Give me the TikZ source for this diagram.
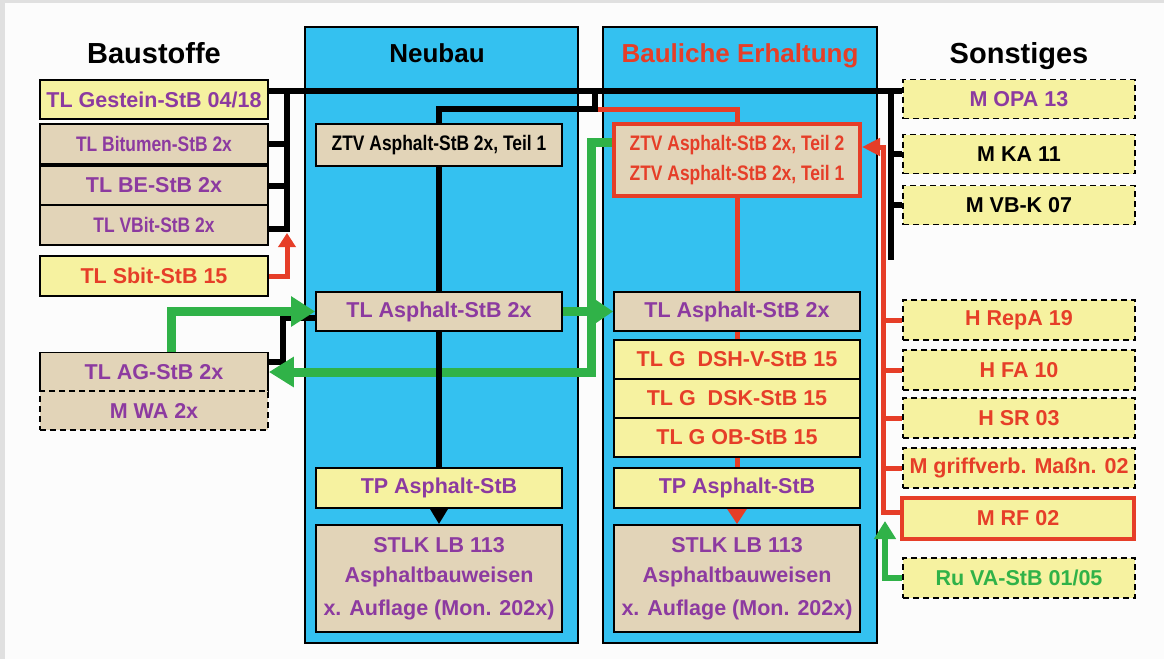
\documentclass[tikz,border=0pt]{standalone}
\usepackage{fontspec}
\setmainfont{Liberation Sans}
\newfontfamily\narrowfont{Liberation Sans}[FakeStretch=0.83]
\usepackage{tikz}
\usetikzlibrary{arrows.meta}
\usepackage{xcolor}
\definecolor{panelblue}{RGB}{52,193,240}
\definecolor{paleyellow}{RGB}{246,242,160}
\definecolor{beige}{RGB}{226,212,184}
\definecolor{lila}{RGB}{140,58,160}
\definecolor{signalred}{RGB}{230,62,40}
\definecolor{signalgreen}{RGB}{48,178,72}
\pgfdeclarelayer{back}
\pgfdeclarelayer{mid}
\pgfsetlayers{back,mid,main}
\newcommand{\boxfont}{\fontsize{21.5}{30}\selectfont\bfseries}
\newcommand{\narrowboxfont}{\fontsize{21}{30}\selectfont\narrowfont\bfseries}
\newcommand{\titlefont}{\fontsize{29}{32}\selectfont\bfseries}
\newcommand{\paneltitlefont}{\fontsize{26}{30}\selectfont\bfseries}

\begin{document}
\begin{tikzpicture}[x=1pt,y=-1pt,
	box/.style={draw=black, line width=1.8pt, inner sep=0pt, minimum height=39pt, font=\boxfont, text=lila, align=center},
	lbox/.style={box, minimum width=228pt},
	mbox/.style={box, minimum width=246pt},
	rbox/.style={box, minimum width=232pt, fill=paleyellow},
	dashbox/.style={dash pattern=on 6pt off 4pt},
	redbox/.style={draw=signalred, line width=4pt},
	panel/.style={draw=black, line width=1.8pt, fill=panelblue, minimum height=616pt, inner sep=0pt},
	bus/.style={line width=6pt, black},
	redline/.style={line width=5pt, signalred},
	greenline/.style={line width=9pt, signalgreen}]
	\useasboundingbox (0,0) rectangle (1164,659);
	\begin{pgfonlayer}{back}
		\fill[black!12] (0,0) rectangle (1164,659);
		\fill[white!99!black] (5,3) rectangle (1164,659);
		\node[panel, minimum width=273pt] (neubau) at (441.5,335) {};
		\node[panel, minimum width=274pt] (erhaltung) at (740,335) {};
	\end{pgfonlayer}
	% titles
	\node[font=\titlefont, anchor=base] (tbau) at (154,63) {Baustoffe};
	\node[font=\paneltitlefont, anchor=base] (tneu) at (437,62) {Neubau};
	\node[font=\paneltitlefont, anchor=base, text=signalred] (terh) at (740,62) {Bauliche Erhaltung};
	\node[font=\titlefont, anchor=base] (tson) at (1019,63) {Sonstiges};
	% Baustoffe
	\node[lbox, fill=paleyellow] (gestein) at (154,99.5) {TL Gestein-StB 04/18};
	\node[lbox, fill=beige, font=\narrowboxfont, minimum height=40pt] (bitumen) at (154,144) {TL Bitumen-StB 2x};
	\node[lbox, fill=beige] (be) at (154,185.5) {TL BE-StB 2x};
	\node[lbox, fill=beige, font=\narrowboxfont, minimum height=40pt] (vbit) at (154,225) {TL VBit-StB 2x};
	\node[lbox, fill=paleyellow, text=signalred, minimum height=40pt] (sbit) at (154,276) {TL Sbit-StB 15};
	\node[lbox, fill=beige] (ag) at (154,372) {TL AG-StB 2x};
	\node[lbox, fill=beige, dashbox] (wa) at (154,410.5) {M WA 2x};
	% Neubau
	\node[mbox, fill=beige, font=\narrowboxfont, text=black, minimum height=42pt] (ztvn) at (439,145) {ZTV Asphalt-StB 2x, Teil 1};
	\node[mbox, fill=beige] (tln) at (439,311.5) {TL Asphalt-StB 2x};
	\node[mbox, fill=paleyellow, minimum height=40pt] (tpn) at (439,488) {TP Asphalt-StB};
	\node[mbox, fill=beige, minimum height=107pt] (stlkn) at (439,578.5) {STLK LB 113\\Asphaltbauweisen\\[3pt]x. Auflage (Mon. 202x)};
	% Bauliche Erhaltung
	\node[mbox, fill=beige, font=\narrowboxfont, text=signalred, redbox, minimum height=72pt] (ztve) at (737,160) {ZTV Asphalt-StB 2x, Teil 2\\ZTV Asphalt-StB 2x, Teil 1};
	\node[mbox, fill=beige] (tle) at (737,311.5) {TL Asphalt-StB 2x};
	\foreach \name/\y/\txt in {dsh/359.5/{TL G\ \ DSH-V-StB 15}, dsk/398.5/{TL G\ \ DSK-StB 15}, ob/437.5/{TL G OB-StB 15}}
		\node[mbox, fill=paleyellow, text=signalred] (\name) at (737,\y) {\txt};
	\node[mbox, fill=paleyellow, minimum height=40pt] (tpe) at (737,488) {TP Asphalt-StB};
	\node[mbox, fill=beige, minimum height=107pt] (stlke) at (737,578.5) {STLK LB 113\\Asphaltbauweisen\\[3pt]x. Auflage (Mon. 202x)};
	% Sonstiges
	\node[rbox, dashbox] (opa) at (1019,99) {M OPA 13};
	\node[rbox, dashbox, text=black] (ka) at (1019,154) {M KA 11};
	\node[rbox, dashbox, text=black] (vbk) at (1019,205) {M VB-K 07};
	\foreach \name/\y/\txt in {repa/320/{H RepA 19}, fa/370/{H FA 10}, sr/418/{H SR 03}, griff/468/{M griffverb. Maßn. 02}}
		\node[rbox, dashbox, text=signalred, minimum height=40pt] (\name) at (1019,\y) {\txt};
	\node[rbox, redbox, text=signalred, minimum height=41pt] (rf) at (1018,518.5) {M RF 02};
	\node[rbox, dashbox, text=signalgreen, minimum height=40pt] (ru) at (1019,578) {Ru VA-StB 01/05};
	% connectors
	\begin{pgfonlayer}{mid}
		\coordinate (lb) at (287,90);
		\coordinate (sb) at (287,233);
		\coordinate (mtop) at (595,90);
		\coordinate (mj) at (595,109);
		\coordinate (gc) at (591,372);
		\coordinate (rb) at (891,90);
		\coordinate (rbend) at (891,260);
		\coordinate (rr) at (883,147);
		\coordinate (ga) at (885,521);
		\draw[bus] ([yshift=9pt]gestein.east) -- ([yshift=9pt]gestein.east -| opa.west);
		\draw[bus] (lb) |- ([yshift=-4pt]vbit.east);
		\foreach \name in {bitumen,be}
			\draw[bus] (\name.east) -- (\name.east -| lb);
		\draw[redline, -{Triangle[length=14pt,width=17pt]}] (sbit.east) -| (sb);
		\draw[redline] (mj) -| (ztve.north);
		\draw[bus] (mtop) -- (mj) -| (ztvn.north);
		\draw[bus] ([yshift=-6pt]tln.west) -- ++(-32,0) |- ([yshift=10pt]ag.east);
		\draw[greenline, -{Triangle[length=25pt,width=29pt]}] ([yshift=18pt]ztve.west) -| (gc) -- (ag.east);
		\draw[greenline, -{Triangle[length=24pt,width=29pt]}] ([xshift=17pt]ag.north) |- (tln.west);
		\draw[greenline, -{Triangle[length=18pt,width=23pt]}] (tln.east) -- (tle.west);
		\draw[bus] (ztvn.south) -- (tpn.north);
		\draw[bus, -{Triangle[length=17pt,width=19pt]}] (tpn.south) -- (stlkn.north);
		\draw[redline] (ztve.south) -- (tpe.north);
		\draw[redline, -{Triangle[length=17pt,width=21pt]}] (tpe.south) -- (stlke.north);
		\draw[bus] (rb) -- (rbend);
		\foreach \name in {ka,vbk}
			\draw[bus] (\name.west) -- (\name.west -| rb);
		\draw[redline, -{Triangle[length=18pt,width=17pt]}] ([yshift=6pt]rf.west) -| (rr) -- ([yshift=13pt]ztve.east);
		\foreach \name in {repa,fa,sr,griff}
			\draw[redline] (\name.west) -- (\name.west -| rr);
		\draw[greenline, line width=5.5pt, -{Triangle[length=18pt,width=21pt]}] (ru.west) -| (ga);
	\end{pgfonlayer}
\end{tikzpicture}
\end{document}
